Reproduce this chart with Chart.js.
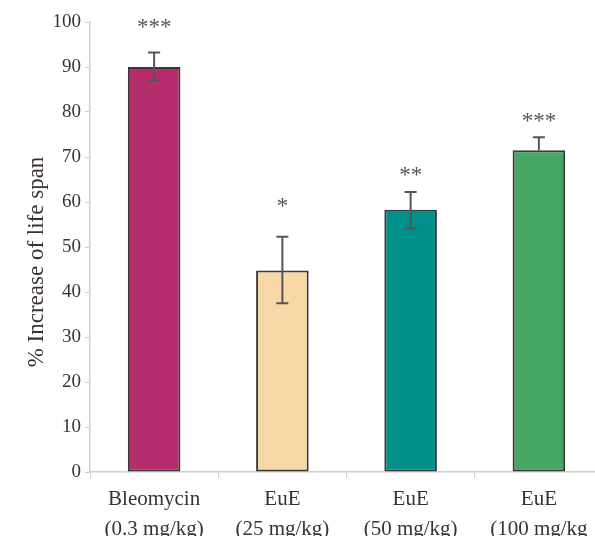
<!DOCTYPE html>
<html><head><meta charset="utf-8">
<script src="https://cdn.jsdelivr.net/npm/chart.js@4/dist/chart.umd.min.js"></script>
<style>html,body{margin:0;padding:0;background:#fff;overflow:hidden;width:595px;height:536px}#w{width:606px;height:536px}</style>
</head><body><div id="w"><canvas id="c" width="606" height="536"></canvas></div>
<script>
const categories = [["Bleomycin","(0.3 mg/kg)"],["EuE","(25 mg/kg)"],["EuE","(50 mg/kg)"],["EuE","(100 mg/kg"]];
const values = [90.0, 44.8, 58.3, 71.5];
const errHigh = [3.2, 7.5, 3.9, 2.9];
const errLow = [3.0, 7.3, 4.2, 0];
const stars = ["***", "*", "**", "***"];
const starLevels = [99.6, 59.8, 66.6, 78.7];
const barColors = ["#b52d6c", "#f8d8a6", "#00908a", "#47a663"];
const yTitle = "% Increase of life span";

const FONT = "'Liberation Serif', 'DejaVu Serif', serif";
const TEXT = "#3a3232";

const extras = {
  id: 'extras',
  afterDatasetsDraw(chart) {
    const ctx = chart.ctx, y = chart.scales.y, meta = chart.getDatasetMeta(0);
    ctx.save();
    ctx.strokeStyle = "#555";
    ctx.lineWidth = 2;
    meta.data.forEach((bar, i) => {
      const x = bar.x;
      const top = y.getPixelForValue(values[i] + errHigh[i]);
      const bot = y.getPixelForValue(values[i] - errLow[i]);
      ctx.beginPath();
      ctx.moveTo(x, top); ctx.lineTo(x, bot);
      ctx.moveTo(x - 6, top); ctx.lineTo(x + 6, top);
      if (errLow[i] > 0) { ctx.moveTo(x - 6, bot); ctx.lineTo(x + 6, bot); }
      ctx.stroke();
      ctx.fillStyle = "#555";
      ctx.font = "23px " + FONT;
      ctx.textAlign = "center";
      ctx.textBaseline = "middle";
      ctx.fillText(stars[i], x, y.getPixelForValue(starLevels[i]) + 4);
    });
    ctx.fillStyle = TEXT;
    ctx.font = "23px " + FONT;
    ctx.translate(37, 262);
    ctx.rotate(-Math.PI / 2);
    ctx.textAlign = "center";
    ctx.textBaseline = "middle";
    ctx.fillText(yTitle, 0, 0);
    ctx.restore();
  }
};

new Chart(document.getElementById('c'), {
  type: 'bar',
  data: {
    labels: categories,
    datasets: [{
      data: values,
      backgroundColor: barColors,
      borderColor: "#383838",
      borderWidth: 2,
      borderSkipped: false,
      barPercentage: 0.41,
      categoryPercentage: 1.0
    }]
  },
  options: {
    responsive: false,
    animation: false,
    devicePixelRatio: 1,
    layout: { padding: { top: 22, right: 3, left: 0, bottom: 0 } },
    plugins: { legend: { display: false }, tooltip: { enabled: false } },
    scales: {
      y: {
        min: 0, max: 100,
        ticks: { stepSize: 10, color: TEXT, font: { family: FONT, size: 19 }, padding: 4 },
        grid: { drawOnChartArea: false, drawTicks: true, tickLength: 5, color: "#cfcfcf" },
        border: { color: "#cfcfcf", width: 1.5 },
        afterFit(s) { s.width = 90; }
      },
      x: {
        ticks: { color: TEXT, font: { family: FONT, size: 21, lineHeight: 1.4 }, padding: 7, maxRotation: 0, autoSkip: false },
        grid: { drawOnChartArea: false, drawTicks: true, tickLength: 6, color: "#cfcfcf", offset: true },
        border: { color: "#cfcfcf", width: 1.5 },
        afterFit(s) { s.height = 64; }
      }
    }
  },
  plugins: [extras]
});
</script>
</body></html>
